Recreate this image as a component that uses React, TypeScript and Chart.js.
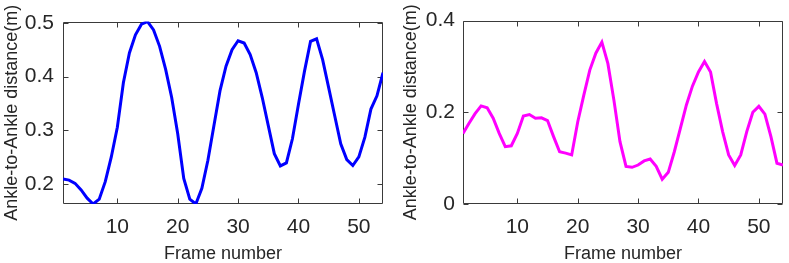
import React, { useEffect, useRef } from "react";
import { Chart, registerables } from "chart.js";

Chart.register(...registerables);

const frames = [
  1, 2, 3, 4, 5, 6, 7, 8, 9, 10, 11, 12, 13, 14, 15, 16, 17, 18, 19, 20, 21, 22, 23, 24, 25, 26, 27,
  28, 29, 30, 31, 32, 33, 34, 35, 36, 37, 38, 39, 40, 41, 42, 43, 44, 45, 46, 47, 48, 49, 50, 51, 52, 53, 54,
];

const leftValues = [
  0.2096, 0.2077, 0.2016, 0.1893, 0.174, 0.1632, 0.1721, 0.2047, 0.2507, 0.306, 0.3888, 0.4441, 0.4778,
  0.4975, 0.5024, 0.487, 0.4564, 0.4134, 0.3612, 0.2937, 0.2108, 0.1721, 0.1632, 0.1924, 0.2446, 0.309,
  0.3735, 0.4195, 0.4502, 0.4668, 0.4625, 0.441, 0.4073, 0.3612, 0.309, 0.2568, 0.2341, 0.2397, 0.2845,
  0.3489, 0.4103, 0.4656, 0.4705, 0.4318, 0.3796, 0.3274, 0.2753, 0.2458, 0.2348, 0.2507, 0.2875, 0.3397,
  0.3643, 0.4073,
];

const rightValues = [
  0.154, 0.176, 0.197, 0.214, 0.21, 0.187, 0.154, 0.125, 0.127, 0.154, 0.192, 0.195, 0.187, 0.188, 0.182,
  0.147, 0.114, 0.111, 0.107, 0.179, 0.237, 0.292, 0.329, 0.353, 0.306, 0.226, 0.136, 0.082, 0.08, 0.085,
  0.094, 0.098, 0.082, 0.054, 0.069, 0.114, 0.165, 0.216, 0.257, 0.288, 0.311, 0.288, 0.219, 0.158, 0.107,
  0.084, 0.107, 0.158, 0.2, 0.213, 0.196, 0.147, 0.089, 0.085,
];

const xTicks = [10, 20, 30, 40, 50];
const leftYTicks = [0.2, 0.3, 0.4, 0.5];
const rightYTicks = [0, 0.2, 0.4];

const xRange = [1, 54];
const leftYRange = [0.1632, 0.5024];
const rightYRange = [0, 0.4];

const xTitle = "Frame number";
const yTitle = "Ankle-to-Ankle distance(m)";

const FONT = '"Liberation Sans", Arial, Helvetica, sans-serif';
const TEXT = "#262626";

const boxPlugin = {
  id: "matlabBox",
  beforeDatasetsDraw(chart: any) {
    const { ctx, chartArea, scales } = chart;
    const l = Math.round(chartArea.left) + 0.5;
    const r = Math.round(chartArea.right) - 0.5;
    const t = Math.round(chartArea.top) + 0.5;
    const b = Math.round(chartArea.bottom) - 0.5;
    ctx.save();
    ctx.strokeStyle = "#3a3a3a";
    ctx.lineWidth = 1;
    ctx.beginPath();
    ctx.rect(l, t, r - l, b - t);
    const tl = 5;
    for (const tk of scales.x.ticks) {
      const px = Math.round(scales.x.getPixelForValue(tk.value)) + 0.5;
      ctx.moveTo(px, b);
      ctx.lineTo(px, b - tl);
      ctx.moveTo(px, t);
      ctx.lineTo(px, t + tl);
    }
    for (const tk of scales.y.ticks) {
      const py = Math.round(scales.y.getPixelForValue(tk.value)) + 0.5;
      ctx.moveTo(l, py);
      ctx.lineTo(l + tl, py);
      ctx.moveTo(r, py);
      ctx.lineTo(r - tl, py);
    }
    ctx.stroke();
    ctx.restore();
  },
};

type PanelProps = {
  values: number[];
  color: string;
  yRange: number[];
  yTicks: number[];
  width: number;
  offsetLeft: number;
  areaLeft: number;
  areaRight: number;
  yTitlePad: number;
  yTickPad: number;
};

function Panel(props: PanelProps) {
  const ref = useRef<HTMLCanvasElement | null>(null);
  useEffect(() => {
    if (!ref.current) return;
    const height = 263;
    const areaTop = 20;
    const areaBottom = 204;
    const chart = new Chart(ref.current, {
      type: "line",
      data: {
        datasets: [
          {
            data: frames.map((f, i) => ({ x: f, y: props.values[i] })),
            borderColor: props.color,
            backgroundColor: props.color,
            borderWidth: 3,
            pointRadius: 0,
            tension: 0,
            fill: false,
          },
        ],
      },
      options: {
        animation: false,
        responsive: false,
        maintainAspectRatio: false,
        events: [],
        layout: {
          padding: { left: 0, right: props.width - props.areaRight, top: areaTop, bottom: 0 },
        },
        plugins: {
          legend: { display: false },
          tooltip: { enabled: false },
          title: { display: false },
        },
        scales: {
          x: {
            type: "linear",
            position: "bottom",
            min: xRange[0],
            max: xRange[1],
            grid: { display: false, drawTicks: false },
            border: { display: false },
            afterBuildTicks: (s: any) => {
              s.ticks = xTicks.map((v) => ({ value: v }));
            },
            afterFit: (s: any) => {
              s.height = height - areaBottom;
            },
            ticks: {
              autoSkip: false,
              maxRotation: 0,
              padding: 10.5,
              color: TEXT,
              font: { family: FONT, size: 21 },
              callback: (v: any) => String(v),
            },
            title: {
              display: true,
              text: xTitle,
              color: TEXT,
              font: { family: FONT, size: 18, lineHeight: 1 },
              padding: { top: 0, bottom: 0 },
            },
          },
          y: {
            type: "linear",
            min: props.yRange[0],
            max: props.yRange[1],
            grid: { display: false, drawTicks: false },
            border: { display: false },
            afterBuildTicks: (s: any) => {
              s.ticks = props.yTicks.map((v) => ({ value: v }));
            },
            afterFit: (s: any) => {
              s.width = props.areaLeft;
            },
            ticks: {
              autoSkip: false,
              padding: props.yTickPad,
              color: TEXT,
              font: { family: FONT, size: 21 },
              callback: (v: any) => String(v),
            },
            title: {
              display: true,
              text: yTitle,
              color: TEXT,
              font: { family: FONT, size: 18, lineHeight: 1 },
              padding: { top: props.yTitlePad, bottom: 0 },
            },
          },
        },
      },
      plugins: [boxPlugin],
    } as any);
    return () => chart.destroy();
  }, []);
  return (
    <canvas
      ref={ref}
      width={props.width}
      height={263}
      style={{
        position: "absolute",
        left: props.offsetLeft,
        top: 0,
        width: props.width,
        height: 263,
        display: "block",
      }}
    />
  );
}

export default function App() {
  return (
    <div
      style={{
        position: "absolute",
        left: 0,
        top: 0,
        width: 789,
        height: 263,
        background: "#ffffff",
        overflow: "hidden",
      }}
    >
      <Panel
        values={leftValues}
        color="#0000ff"
        yRange={leftYRange}
        yTicks={leftYTicks}
        width={395}
        offsetLeft={0}
        areaLeft={63}
        areaRight={383}
        yTitlePad={2.7}
        yTickPad={9}
      />
      <Panel
        values={rightValues}
        color="#ff00ff"
        yRange={rightYRange}
        yTicks={rightYTicks}
        width={394}
        offsetLeft={395}
        areaLeft={68}
        areaRight={388}
        yTitlePad={7.5}
        yTickPad={8}
      />
    </div>
  );
}
